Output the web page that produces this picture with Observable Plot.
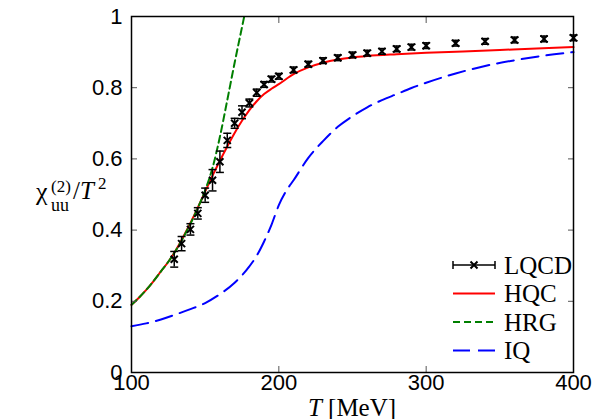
<!DOCTYPE html>
<html><head><meta charset="utf-8">
<script src="https://cdn.jsdelivr.net/npm/d3@7"></script>
<script src="https://cdn.jsdelivr.net/npm/@observablehq/plot@0.6"></script>
<style>
body{margin:0;background:#fff;}
#wrap{position:relative;width:600px;height:419px;overflow:hidden;background:#fff;}
#wrap svg.ov{position:absolute;left:0;top:0;}
</style></head><body><div id="wrap"></div>
<script>
// LQCD lattice data
const lqcdT   = [129,134,140,145,150,155,160,165,170,175,180,185,190,195,200,210,220,230,240,250,260,270,280,290,300,320,340,360,380,400];
const lqcdV   = [0.318,0.362,0.402,0.447,0.498,0.540,0.592,0.652,0.700,0.731,0.757,0.786,0.809,0.824,0.832,0.850,0.866,0.876,0.884,0.892,0.897,0.902,0.909,0.914,0.918,0.925,0.930,0.934,0.937,0.940];
const lqcdErr = [0.022,0.020,0.016,0.016,0.020,0.030,0.030,0.020,0.014,0.018,0.011,0.010,0.008,0.008,0.008,0.008,0.008,0.008,0.008,0.008,0.008,0.008,0.008,0.008,0.008,0.008,0.008,0.008,0.008,0.008];
// HQC (red solid)
const hqcT = [100,105,110,115,120,125,130,135,140,145,150,155,160,165,170,175,180,185,190,195,200,210,220,230,240,250,260,280,300,325,350,375,400];
const hqcV = [0.190,0.210,0.232,0.257,0.284,0.311,0.343,0.380,0.420,0.463,0.508,0.553,0.595,0.635,0.673,0.707,0.737,0.762,0.782,0.797,0.810,0.838,0.857,0.870,0.879,0.885,0.889,0.894,0.898,0.902,0.906,0.910,0.914];
// HRG (green dashed)
const hrgT = [100,105,110,115,120,125,130,135,140,145,150,155,160,165,170,175,176.5];
const hrgV = [0.190,0.210,0.232,0.257,0.284,0.311,0.342,0.378,0.418,0.462,0.512,0.575,0.662,0.765,0.870,0.970,1.0];
// IQ (blue long dash)
const iqT = [100,110,120,130,140,150,160,170,180,185,190,195,200,205,210,220,230,240,250,260,270,280,290,300,320,340,360,380,400];
const iqV = [0.130,0.138,0.149,0.163,0.178,0.195,0.220,0.252,0.298,0.328,0.368,0.415,0.470,0.510,0.540,0.603,0.650,0.690,0.720,0.745,0.765,0.782,0.799,0.814,0.840,0.861,0.877,0.890,0.900];
// ticks
const xTicks = [100,200,300,400];
const yTicks = [0,0.2,0.4,0.6,0.8,1];
const legendLabels = ["LQCD","HQC","HRG","IQ"];

const zip = (T,V) => T.map((t,i)=>({T:t, v:V[i]}));
const lqcd = lqcdT.map((t,i)=>({T:t, v:lqcdV[i], lo:lqcdV[i]-lqcdErr[i], hi:lqcdV[i]+lqcdErr[i]}));
const capSym = {draw(ctx, size){ const w = Math.sqrt(size/Math.PI); ctx.moveTo(-w,0); ctx.lineTo(w,0);} };
const fmtY = d => d===0 ? "0" : d===1 ? "1" : d.toFixed(1);

const W = 600, H = 419;
const plot = Plot.plot({
  width: W, height: H,
  marginLeft: 131, marginRight: 27, marginTop: 16, marginBottom: 47,
  style: {fontFamily: "'Liberation Sans', Arial, sans-serif", fontSize: "22px", background: "#fff", color: "#000"},
  x: {domain: [100,400], label: null},
  y: {domain: [0,1], label: null},
  marks: [
    Plot.line(zip(hqcT,hqcV), {x:"T", y:"v", stroke:"#ff0000", strokeWidth:2, curve:"monotone-x"}),
    Plot.line(zip(hrgT,hrgV), {x:"T", y:"v", stroke:"#007f00", strokeWidth:2, strokeDasharray:"7,4", curve:"monotone-x"}),
    Plot.line(zip(iqT,iqV), {x:"T", y:"v", stroke:"#0000ff", strokeWidth:2, strokeDasharray:"17,8", curve:"monotone-x"}),
    Plot.ruleX(lqcd, {x:"T", y1:"lo", y2:"hi", stroke:"black", strokeWidth:1.5}),
    Plot.dot(lqcd, {x:"T", y:"lo", symbol:capSym, r:4, stroke:"black", fill:"none", strokeWidth:1.5}),
    Plot.dot(lqcd, {x:"T", y:"hi", symbol:capSym, r:4, stroke:"black", fill:"none", strokeWidth:1.5}),
    Plot.dot(lqcd, {x:"T", y:"v", symbol:"times", r:3.3, stroke:"black", strokeWidth:2}),
    Plot.axisX({ticks:xTicks, tickSize:-6, tickPadding:8, stroke:"#555", tickFormat:d=>String(d), fontSize:22}),
    Plot.axisX({anchor:"top", ticks:[200,300], tickSize:-6, stroke:"#555", tickFormat:()=>""}),
    Plot.axisY({ticks:yTicks, tickSize:-6, tickPadding:15, stroke:"#555", tickFormat:fmtY, fontSize:22}),
    Plot.axisY({anchor:"right", ticks:[0.2,0.4,0.6,0.8], tickSize:-6, stroke:"#555", tickFormat:()=>""}),
    Plot.frame({stroke:"black", strokeWidth:1.5})
  ]
});
const wrap = document.getElementById("wrap");
wrap.appendChild(plot);

// overlay: axis labels and legend
const SERIF = "'Liberation Serif', 'Times New Roman', serif";
const ov = d3.select(wrap).append("svg").attr("class","ov").attr("width",W).attr("height",H);
const txt = (x,y,size) => ov.append("text").attr("x",x).attr("y",y).attr("font-size",size).style("font-family",SERIF).attr("fill","black");
// x label
const xl = txt(352,416,25).attr("text-anchor","middle");
xl.append("tspan").attr("font-style","italic").text("T");
xl.append("tspan").text(" [MeV]");
// y label
txt(36,200,26).text("χ");
txt(51,192,17).text("(2)");
txt(51,211,18).text("uu");
const sl = txt(73,199,25);
sl.append("tspan").text("/");
sl.append("tspan").attr("font-style","italic").text("T");
txt(98,189,17).text("2");
// legend
const legY = [265,293.5,322,350.5];
const x0 = 453, x1 = 495;
ov.append("line").attr("x1",x0).attr("x2",x1).attr("y1",legY[0]).attr("y2",legY[0]).attr("stroke","black").attr("stroke-width",1.5);
[x0,x1].forEach(x=>ov.append("line").attr("x1",x).attr("x2",x).attr("y1",legY[0]-4).attr("y2",legY[0]+4).attr("stroke","black").attr("stroke-width",1.5));
const xm = (x0+x1)/2;
ov.append("path").attr("d",`M${xm-3.5},${legY[0]-3.5}L${xm+3.5},${legY[0]+3.5}M${xm-3.5},${legY[0]+3.5}L${xm+3.5},${legY[0]-3.5}`).attr("stroke","black").attr("stroke-width",2);
ov.append("line").attr("x1",x0).attr("x2",x1).attr("y1",legY[1]).attr("y2",legY[1]).attr("stroke","#ff0000").attr("stroke-width",2);
ov.append("line").attr("x1",x0).attr("x2",x1).attr("y1",legY[2]).attr("y2",legY[2]).attr("stroke","#007f00").attr("stroke-width",2).attr("stroke-dasharray","7,4");
ov.append("line").attr("x1",x0).attr("x2",x1).attr("y1",legY[3]).attr("y2",legY[3]).attr("stroke","#0000ff").attr("stroke-width",2).attr("stroke-dasharray","17,8");
legendLabels.forEach((s,i)=>txt(504,legY[i]+8.5,25).text(s));
</script>
</body></html>
